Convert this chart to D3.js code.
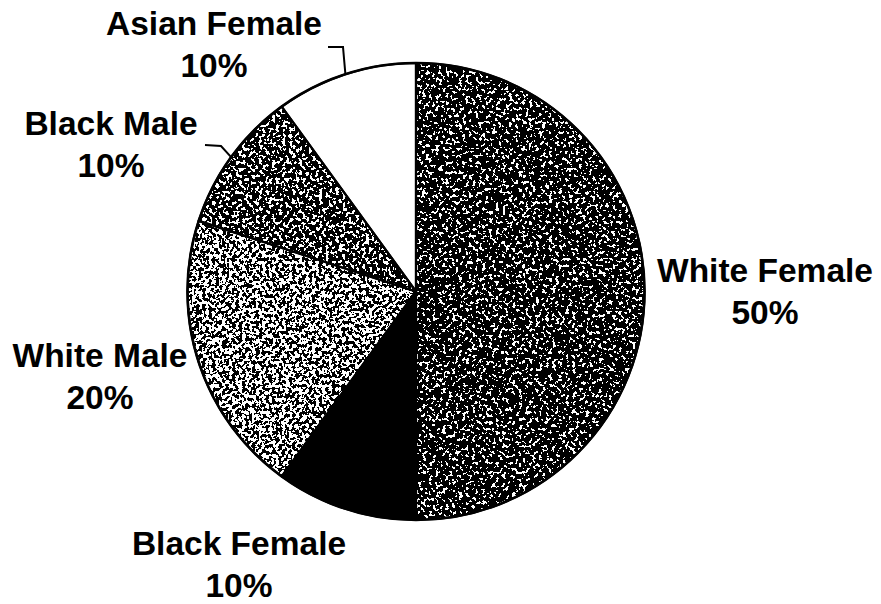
<!DOCTYPE html>
<html>
<head>
<meta charset="utf-8">
<script src="https://cdn.jsdelivr.net/npm/d3@7"></script>
<style>
  html, body { margin: 0; padding: 0; background: #fff; }
  svg { display: block; }
  .lbl { font-family: "Liberation Sans", Arial, sans-serif; font-weight: bold; font-size: 33.5px; fill: #000; }
</style>
</head>
<body>
<div id="chart"></div>
<script>
// chart data
const categories = ["White Female", "Black Female", "White Male", "Black Male", "Asian Female"];
const shares = [50, 10, 20, 10, 10];

// how each slice is shaded (fraction of black speckle, 0 = white, 1 = solid)
const shading = [0.6, 1, 0.5, 0.56, 0];

// label anchors: centre x, first baseline y
const labelAnchors = [[765, 282], [239, 555], [100, 367], [111, 135], [214, 35]];
// leader elbows for the small top slices (index -> [elbow, end])
const leaders = { 3: [[221, 146], [205, 145]], 4: [[343, 47], [328, 47]] };

const width = 881, height = 604;
const cx = 416, cy = 291.5, radius = 228.5;

const svg = d3.select("#chart").append("svg")
  .attr("width", width)
  .attr("height", height);

const defs = svg.append("defs");

/* speckle texture: thresholded noise composited inside the slice shape */
shading.forEach((dark, i) => {
  if (dark <= 0 || dark >= 1) return;
  const n = 80;
  const table = d3.range(n).map(k => (k / n < dark ? 1 : 0)).join(" ");
  const f = defs.append("filter")
    .attr("id", "speckle-" + i)
    .attr("filterUnits", "userSpaceOnUse")
    .attr("x", -cx).attr("y", -cy).attr("width", width).attr("height", height)
    .attr("color-interpolation-filters", "sRGB");
  f.append("feTurbulence")
    .attr("type", "fractalNoise")
    .attr("baseFrequency", 0.3)
    .attr("numOctaves", 2)
    .attr("seed", 7 + i)
    .attr("result", "noise");
  f.append("feColorMatrix")
    .attr("in", "noise")
    .attr("type", "matrix")
    .attr("values", "0 0 0 0 0  0 0 0 0 0  0 0 0 0 0  1 0 0 0 0")
    .attr("result", "chan");
  f.append("feComponentTransfer")
    .attr("in", "chan")
    .attr("result", "dots")
    .append("feFuncA")
    .attr("type", "discrete")
    .attr("tableValues", table);
  f.append("feComposite")
    .attr("in", "dots")
    .attr("in2", "SourceAlpha")
    .attr("operator", "in")
    .attr("result", "clipped");
  const m = f.append("feMerge");
  m.append("feMergeNode").attr("in", "SourceGraphic");
  m.append("feMergeNode").attr("in", "clipped");
});

const pie = d3.pie().sort(null).value(d => d)(shares);

const arc = d3.arc().innerRadius(0).outerRadius(radius);

const g = svg.append("g").attr("transform", `translate(${cx},${cy})`);

// fills
g.selectAll("path.fill")
  .data(pie)
  .join("path")
  .attr("class", "fill")
  .attr("d", arc)
  .attr("fill", (d, i) => shading[i] >= 1 ? "#000" : "#fff")
  .attr("filter", (d, i) => (shading[i] > 0 && shading[i] < 1) ? `url(#speckle-${i})` : null);

// outlines
g.selectAll("path.edge")
  .data(pie)
  .join("path")
  .attr("class", "edge")
  .attr("d", arc)
  .attr("fill", "none")
  .attr("stroke", "#000")
  .attr("stroke-width", 2.2)
  .attr("stroke-linejoin", "round");

g.append("circle")
  .attr("r", radius)
  .attr("fill", "none")
  .attr("stroke", "#000")
  .attr("stroke-width", 2.6);

// leader lines from mid-angle on the rim to the label
const rimPoint = d => {
  const a = (d.startAngle + d.endAngle) / 2;
  return [cx + radius * Math.sin(a), cy - radius * Math.cos(a)];
};
Object.keys(leaders).forEach(k => {
  const d = pie[+k];
  const pts = [rimPoint(d)].concat(leaders[k]);
  svg.append("path")
    .attr("d", d3.line()(pts))
    .attr("fill", "none")
    .attr("stroke", "#000")
    .attr("stroke-width", 2);
});

// labels
const labels = svg.append("g");
pie.forEach((d, i) => {
  const [x, y] = labelAnchors[i];
  const t = labels.append("text")
    .attr("class", "lbl")
    .attr("text-anchor", "middle");
  t.append("tspan").attr("x", x).attr("y", y).text(categories[i]);
  t.append("tspan").attr("x", x).attr("y", y + 42).text(shares[i] + "%");
});
</script>
</body>
</html>
